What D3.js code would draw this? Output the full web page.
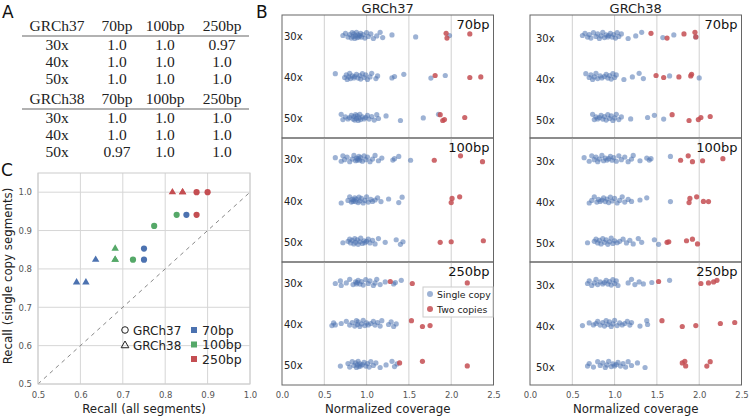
<!DOCTYPE html>
<html><head><meta charset="utf-8">
<script src="https://cdn.jsdelivr.net/npm/d3@7/dist/d3.min.js"></script>
<style>body{margin:0;background:#fff}svg{display:block}text{font-family:"DejaVu Sans",sans-serif}</style>
</head><body><svg id="c" width="750" height="420"></svg>
<script>
// ---------- Panel A table ----------
const tableCols = ["70bp", "100bp", "250bp"];
const tableRows = ["30x", "40x", "50x"];
const table37 = [["1.0","1.0","0.97"],["1.0","1.0","1.0"],["1.0","1.0","1.0"]];
const table38 = [["1.0","1.0","1.0"],["1.0","1.0","1.0"],["0.97","1.0","1.0"]];

// ---------- Panel B data (normalized coverage per segment) ----------
const references = ["GRCh37", "GRCh38"];
const readLengths = ["70bp", "100bp", "250bp"];
const coverages = ["30x", "40x", "50x"];
const g37_70_single = [
 [0.72,0.75,0.78,0.80,0.82,0.83,0.84,0.85,0.86,0.87,0.88,0.89,0.90,0.91,0.92,0.93,0.94,0.96,0.98,1.00,1.02,1.05,1.08,1.12,1.16,1.19,1.30,1.58,1.98],
 [0.63,0.74,0.76,0.77,0.79,0.80,0.81,0.83,0.85,0.86,0.88,0.90,0.92,0.93,0.95,0.97,0.99,1.01,1.04,1.06,1.11,1.13,1.30,1.33,1.44,1.76,1.93],
 [0.70,0.72,0.75,0.78,0.80,0.82,0.84,0.85,0.86,0.87,0.88,0.89,0.90,0.91,0.92,0.93,0.95,0.97,0.99,1.01,1.03,1.06,1.09,1.12,1.14,1.23,1.40,1.67,1.85]];
const g37_70_two = [[1.94,1.95,2.22],[1.81,2.22,2.35],[1.87,1.90,1.92,2.16]];
const g37_100_single = [
 [0.63,0.70,0.72,0.74,0.77,0.80,0.83,0.85,0.87,0.88,0.89,0.90,0.91,0.92,0.93,0.95,0.97,0.99,1.01,1.04,1.07,1.10,1.14,1.18,1.31,1.33,1.38,1.52],
 [0.70,0.78,0.80,0.82,0.83,0.84,0.85,0.86,0.87,0.88,0.90,0.91,0.92,0.94,0.96,0.98,1.00,1.02,1.05,1.07,1.10,1.13,1.17,1.26,1.38,1.42],
 [0.72,0.78,0.80,0.81,0.83,0.85,0.86,0.87,0.89,0.90,0.92,0.93,0.95,0.97,0.98,1.00,1.02,1.04,1.07,1.10,1.14,1.22,1.35,1.40,1.43]];
const g37_100_two = [[1.80,2.11,2.37],[2.00,2.01,2.10],[1.87,2.00,2.38]];
const g37_250_single = [
 [0.63,0.69,0.70,0.76,0.80,0.84,0.87,0.88,0.89,0.90,0.92,0.94,0.96,0.99,1.02,1.04,1.08,1.10,1.12,1.16,1.22,1.32,1.34,1.41],
 [0.59,0.61,0.63,0.70,0.76,0.80,0.83,0.86,0.88,0.89,0.90,0.92,0.94,0.96,0.98,1.00,1.02,1.05,1.08,1.10,1.13,1.16,1.18,1.26,1.29,1.32,1.35],
 [0.69,0.78,0.80,0.83,0.85,0.87,0.88,0.89,0.90,0.91,0.92,0.93,0.95,0.97,0.99,1.01,1.03,1.05,1.08,1.11,1.16,1.23,1.30,1.33,1.36]];
const g37_250_two = [[1.28,1.54,2.19],[1.53,1.66,1.75],[1.39,1.66,2.19]];
const g38_70_single = [
 [0.62,0.65,0.68,0.70,0.72,0.75,0.78,0.80,0.82,0.84,0.86,0.88,0.90,0.92,0.93,0.95,0.97,0.99,1.01,1.03,1.05,1.08,1.16,1.25,1.32,1.57,1.70,1.96],
 [0.66,0.70,0.72,0.74,0.76,0.78,0.80,0.83,0.85,0.88,0.90,0.92,0.94,0.96,0.98,1.00,1.02,1.11,1.21,1.29,1.34,1.65,2.00],
 [0.74,0.76,0.78,0.80,0.82,0.84,0.86,0.88,0.90,0.92,0.94,0.96,0.98,1.00,1.02,1.05,1.08,1.19,1.39,1.47,1.58]];
const g38_70_two = [[1.43,1.62,1.82,1.95,1.96],[1.49,1.58,1.76,1.90,1.91],[1.68,1.88,1.99,2.02,2.13]];
const g38_100_single = [
 [0.64,0.70,0.73,0.76,0.78,0.80,0.82,0.85,0.87,0.89,0.91,0.93,0.95,0.97,0.99,1.02,1.05,1.08,1.12,1.16,1.20,1.22,1.30,1.38,1.41,1.43,1.66],
 [0.70,0.73,0.76,0.79,0.81,0.83,0.85,0.87,0.89,0.91,0.93,0.95,0.97,1.00,1.03,1.06,1.09,1.12,1.16,1.20,1.30,1.38,1.66],
 [0.68,0.76,0.78,0.80,0.82,0.84,0.86,0.88,0.90,0.92,0.94,0.96,0.98,1.00,1.03,1.06,1.10,1.14,1.18,1.22,1.28,1.32,1.47,1.52]];
const g38_100_two = [[1.78,1.87,1.92,2.04,2.28],[1.88,1.89,1.97,2.05,2.11],[1.62,1.64,1.85,1.92,1.98]];
const g38_250_single = [
 [0.68,0.70,0.73,0.76,0.78,0.80,0.83,0.86,0.88,0.90,0.92,0.94,0.96,0.98,1.00,1.02,1.04,1.16,1.20,1.24,1.29,1.34,1.44,1.65],
 [0.62,0.70,0.75,0.78,0.80,0.83,0.86,0.88,0.90,0.92,0.94,0.96,0.98,1.00,1.03,1.06,1.09,1.12,1.15,1.18,1.20,1.30,1.38,1.39],
 [0.68,0.70,0.75,0.80,0.83,0.86,0.89,0.91,0.93,0.96,0.98,1.00,1.02,1.04,1.07,1.10,1.13,1.16,1.20,1.27,1.36]];
const g38_250_two = [[1.52,2.02,2.11,2.17,2.21],[1.56,1.80,1.96,2.25,2.42],[1.80,1.83,1.84,2.09,2.13]];
const coverageTicks = [0.0, 0.5, 1.0, 1.5, 2.0, 2.5];

// ---------- Panel C data ----------
const recallAll37 = [0.75, 0.75, 0.85, 0.724, 0.774, 0.827, 0.874, 0.90, 0.874];
const recallSingle37 = [0.853, 0.824, 0.941, 0.824, 0.912, 0.941, 1.0, 1.0, 0.941];
const readLen37 = ["70bp","70bp","70bp","100bp","100bp","100bp","250bp","250bp","250bp"];
const recallAll38 = [0.591, 0.613, 0.636, 0.682, 0.682, 0.682, 0.817, 0.841, 0.841];
const recallSingle38 = [0.765, 0.765, 0.824, 0.853, 0.824, 0.824, 1.0, 1.0, 1.0];
const readLen38 = ["70bp","70bp","70bp","100bp","100bp","100bp","250bp","250bp","250bp"];
const recallTicks = [0.5, 0.6, 0.7, 0.8, 0.9, 1.0];

const BLUE = "#4c72b0", GREEN = "#55a868", RED = "#c44e52";
const svg = d3.select("#c");

// ---------- Panel letters ----------
[["A",2,18],["B",256,18],["C",1,176]].forEach(([t,x,y]) =>
  svg.append("text").attr("x",x).attr("y",y).attr("font-size",17).attr("fill","#111").text(t));

// ---------- Panel A ----------
const colX = d3.scaleOrdinal().domain(["ref"].concat(tableCols)).range([57,117,165,222]);
function drawTable(ref, rows, y0) {
  const g = svg.append("g").attr("font-size",15.5).attr("fill","#222");
  const keys = ["ref"].concat(tableCols);
  [ref].concat(tableCols).forEach((h,i)=> g.append("text").attr("x",colX(keys[i])).attr("y",y0)
      .attr("text-anchor","middle").style("font-family","'Liberation Serif',serif").text(h));
  g.append("line").attr("x1",22).attr("x2",249).attr("y1",y0+5).attr("y2",y0+5).attr("stroke","#999").attr("stroke-width",1.5);
  tableRows.forEach((r,ri)=>{
    const y = y0 + 19 + ri*17;
    g.append("text").attr("x",colX("ref")).attr("y",y).attr("text-anchor","middle").style("font-family","'Liberation Serif',serif").text(r);
    rows[ri].forEach((v,ci)=> g.append("text").attr("x",colX(tableCols[ci])).attr("y",y)
      .attr("text-anchor","middle").style("font-family","'Liberation Serif',serif").text(v));
  });
}
drawTable("GRCh37", table37, 31);
drawTable("GRCh38", table38, 104);

// ---------- Panel B ----------
const jit = [0,-2.2,1.6,-1,2.6,-2.8,1,-1.6,3,0.4,-3.2,2.1,-0.6,1.4];
const panelY = [[15,138],[138,262],[262,385]];
const bData = {
  GRCh37: [[g37_70_single,g37_70_two],[g37_100_single,g37_100_two],[g37_250_single,g37_250_two]],
  GRCh38: [[g38_70_single,g38_70_two],[g38_100_single,g38_100_two],[g38_250_single,g38_250_two]]
};
const xRanges = {GRCh37:[282,493.5], GRCh38:[530,741.5]};
references.forEach((ref, pi)=>{
  const x = d3.scaleLinear().domain([0,2.5]).range(xRanges[ref]);
  const g = svg.append("g");
  g.append("text").attr("x",(x.range()[0]+x.range()[1])/2).attr("y",13).attr("text-anchor","middle")
    .attr("font-size",13).attr("fill","#222").text(ref);
  readLengths.forEach((rl, ri)=>{
    const [t,b] = panelY[ri];
    const y = d3.scalePoint().domain(coverages).range([t,b]).padding(0.5);
    const sg = g.append("g");
    coverageTicks.slice(1,-1).forEach(v => sg.append("line").attr("x1",x(v)).attr("x2",x(v))
      .attr("y1",t).attr("y2",b).attr("stroke","#d0d0d0").attr("stroke-width",1));
    const [single, two] = bData[ref][ri];
    coverages.forEach((cv, ci)=>{
      sg.selectAll(null).data(single[ci]).join("circle")
        .attr("cx",d=>x(d)).attr("cy",(d,i)=>y(cv)+jit[(i+ci*5+ri*3)%jit.length])
        .attr("r",2.6).attr("fill",BLUE).attr("fill-opacity",0.55);
      sg.selectAll(null).data(two[ci]).join("circle")
        .attr("cx",d=>x(d)).attr("cy",(d,i)=>y(cv)+jit[(i*3+ci*2+ri+1)%jit.length])
        .attr("r",2.6).attr("fill",RED).attr("fill-opacity",0.85);
      sg.append("text").attr("x",x.range()[0]+(pi?6:2)).attr("y",y(cv)+(pi?6:4.5))
        .attr("font-size",10).attr("fill","#222").text(cv);
    });
    sg.append("text").attr("x",x.range()[1]-4).attr("y",t+14).attr("text-anchor","end")
      .attr("font-size",13).attr("fill","#111").text(rl);
    sg.append("rect").attr("x",x.range()[0]).attr("y",t).attr("width",x.range()[1]-x.range()[0])
      .attr("height",b-t).attr("fill","none").attr("stroke","#666").attr("stroke-width",1);
  });
  const ax = g.append("g").attr("transform","translate(0,385)")
    .call(d3.axisBottom(x).tickValues(coverageTicks).tickFormat(d3.format(".1f")).tickSize(0).tickPadding(7));
  ax.select(".domain").remove();
  ax.selectAll("text").attr("font-size",8.5).attr("fill","#555").style("font-family","'DejaVu Sans',sans-serif");
  g.append("text").attr("x",(x.range()[0]+x.range()[1])/2).attr("y",413).attr("text-anchor","middle")
    .attr("font-size",11.8).attr("fill","#222").text("Normalized coverage");
  if (pi===0) {
    const lg = g.append("g");
    lg.append("rect").attr("x",423).attr("y",287).attr("width",70).attr("height",30)
      .attr("fill","#fff").attr("fill-opacity",0.85).attr("stroke","#ccc");
    [["Single copy",BLUE,0.55,295],["Two copies",RED,0.85,310]].forEach(([lab,c,op,yy])=>{
      lg.append("circle").attr("cx",430).attr("cy",yy-1).attr("r",3).attr("fill",c).attr("fill-opacity",op);
      lg.append("text").attr("x",437).attr("y",yy+2.5).attr("font-size",9.3).attr("fill","#222").text(lab);
    });
  }
});

// ---------- Panel C ----------
const cx = d3.scaleLinear().domain([0.5,1.0]).range([38,250]);
const cy = d3.scaleLinear().domain([0.5,1.05]).range([384,173]);
const color = d3.scaleOrdinal().domain(["70bp","100bp","250bp"]).range([BLUE,GREEN,RED]);
const gc = svg.append("g");
gc.append("rect").attr("x",38).attr("y",173).attr("width",212).attr("height",211).attr("fill","#fff");
recallTicks.forEach(v=>{
  gc.append("line").attr("x1",cx(v)).attr("x2",cx(v)).attr("y1",173).attr("y2",384).attr("stroke","#d6d6d6");
  gc.append("line").attr("x1",38).attr("x2",250).attr("y1",cy(v)).attr("y2",cy(v)).attr("stroke","#d6d6d6");
});
gc.append("line").attr("x1",cx(0.5)).attr("y1",cy(0.5)).attr("x2",cx(1.0)).attr("y2",cy(1.0))
  .attr("stroke","#888").attr("stroke-width",1).attr("stroke-dasharray","4,4");
gc.append("rect").attr("x",38).attr("y",173).attr("width",212).attr("height",211).attr("fill","none").attr("stroke","#ccc");
const xa = gc.append("g").attr("transform","translate(0,384)")
  .call(d3.axisBottom(cx).tickValues(recallTicks).tickFormat(d3.format(".1f")).tickSize(0).tickPadding(8));
xa.select(".domain").remove();
xa.selectAll("text").attr("font-size",8.5).attr("fill","#555").style("font-family","'DejaVu Sans',sans-serif");
const ya = gc.append("g").attr("transform","translate(38,0)")
  .call(d3.axisLeft(cy).tickValues(recallTicks).tickFormat(d3.format(".1f")).tickSize(0).tickPadding(6));
ya.select(".domain").remove();
ya.selectAll("text").attr("font-size",8.5).attr("fill","#555").style("font-family","'DejaVu Sans',sans-serif");
gc.append("text").attr("x",144).attr("y",413).attr("text-anchor","middle").attr("font-size",11.8).attr("fill","#222").text("Recall (all segments)");
gc.append("text").attr("transform","translate(12,276) rotate(-90)").attr("text-anchor","middle")
  .attr("font-size",11.8).attr("fill","#222").text("Recall (single copy segments)");
const tri = d3.symbol().type(d3.symbolTriangle).size(24);
gc.selectAll(null).data(recallAll38.map((v,i)=>[v,recallSingle38[i],readLen38[i]])).join("path")
  .attr("d",tri).attr("transform",d=>`translate(${cx(d[0])},${cy(d[1])})`).attr("fill",d=>color(d[2]));
gc.selectAll(null).data(recallAll37.map((v,i)=>[v,recallSingle37[i],readLen37[i]])).join("circle")
  .attr("cx",d=>cx(d[0])).attr("cy",d=>cy(d[1])).attr("r",3.1).attr("fill",d=>color(d[2]));
// legend
gc.append("circle").attr("cx",125).attr("cy",330).attr("r",3.3).attr("fill","none").attr("stroke","#222").attr("stroke-width",1);
gc.append("text").attr("x",133).attr("y",334.5).attr("font-size",12).attr("fill","#222").text("GRCh37");
gc.append("path").attr("d",d3.symbol().type(d3.symbolTriangle).size(26)).attr("transform","translate(125,345.5)")
  .attr("fill","none").attr("stroke","#222").attr("stroke-width",1);
gc.append("text").attr("x",133).attr("y",349.5).attr("font-size",12).attr("fill","#222").text("GRCh38");
color.domain().forEach((k,i)=>{
  const yy = 330 + i*14.5;
  gc.append("rect").attr("x",191).attr("y",yy-3).attr("width",6).attr("height",6).attr("fill",color(k));
  gc.append("text").attr("x",202).attr("y",yy+4.5).attr("font-size",12.5).attr("fill","#222").text(k);
});
</script></body></html>
